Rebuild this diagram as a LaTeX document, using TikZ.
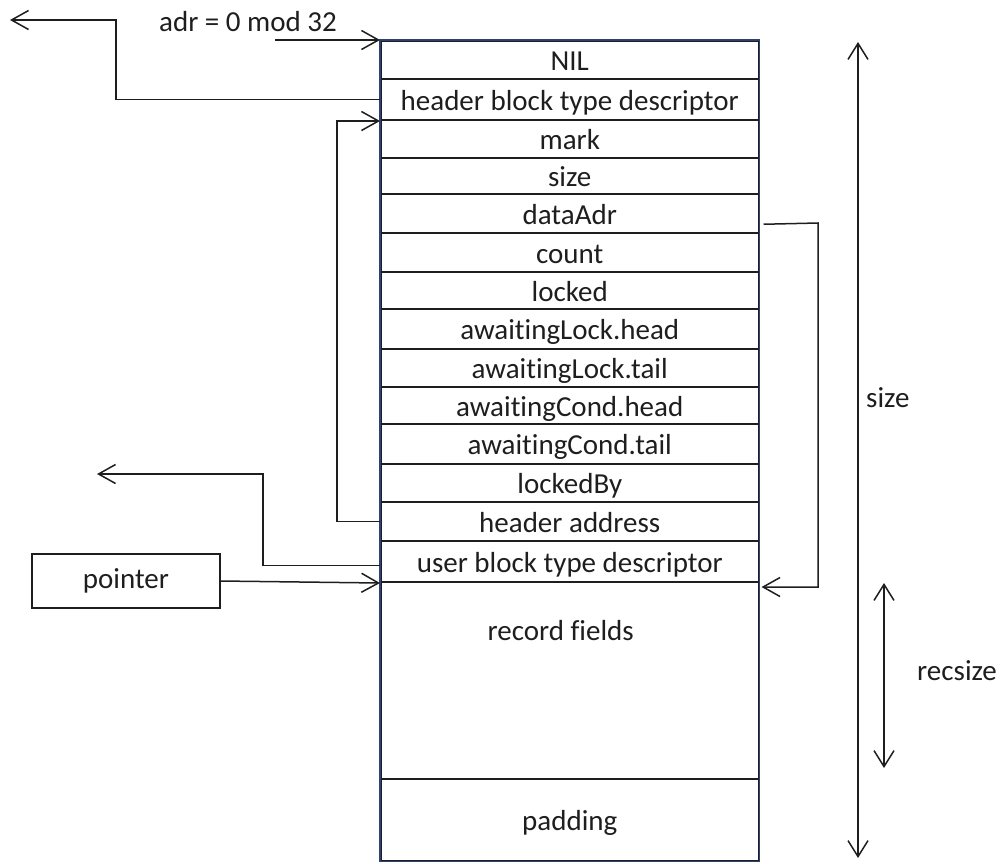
\documentclass[tikz,border=0pt]{standalone}
\usepackage{fontspec}
\setmainfont{Carlito}[Ligatures=NoCommon]
\usetikzlibrary{arrows.meta}
\definecolor{frameblue}{RGB}{44,66,118}
\definecolor{ink}{RGB}{30,30,30}
\tikzset{
  cell/.style={draw=ink, line width=1.5pt, minimum width=378pt, inner sep=0pt,
               anchor=north west, font=\fontsize{29}{33}\selectfont, text=ink,
               text height=22pt, text depth=0pt},
  lbl/.style={font=\fontsize{29}{33}\selectfont, text=ink, inner sep=0pt},
  link/.style={draw=ink, line width=1.5pt},
  arr/.style={link, -{Straight Barb[length=17pt,width=19pt,line width=1.5pt]}},
  dbl/.style={link, {Straight Barb[length=16pt,width=20pt,line width=1.5pt]}-{Straight Barb[length=16pt,width=20pt,line width=1.5pt]}}
}
\begin{document}
\begin{tikzpicture}[x=1pt,y=-1pt]
\useasboundingbox (0,0) rectangle (1001,863);

% memory block rows
\node[cell, minimum height=38pt] (nil)   at (380,40)  {NIL};
\node[cell, minimum height=41pt] (hbtd)  at (380,78)  {header block type descriptor};
\node[cell, minimum height=38pt] (mark)  at (380,119) {mark};
\node[cell, minimum height=36pt] (sz)    at (380,157) {size};
\node[cell, minimum height=39pt] (data)  at (380,193) {dataAdr};
\node[cell, minimum height=39pt] (count) at (380,232) {count};
\node[cell, minimum height=37pt] (lck)   at (380,271) {locked};
\node[cell, minimum height=40pt] (alh)   at (380,308) {awaitingLock.head};
\node[cell, minimum height=38pt] (alt)   at (380,348) {awaitingLock.tail};
\node[cell, minimum height=37pt] (ach)   at (380,386) {awaitingCond.head};
\node[cell, minimum height=40pt] (act)   at (380,423) {awaitingCond.tail};
\node[cell, minimum height=38pt] (lby)   at (380,463) {lockedBy};
\node[cell, minimum height=39pt] (haddr) at (380,501) {header address};
\node[cell, minimum height=41pt] (ubtd)  at (380,540) {user block type descriptor};
\node[cell, minimum height=197pt, text depth=101pt] (rec) at (380,581) {\hspace*{-18pt}record fields};
\node[cell, minimum height=82pt] (pad)   at (380,778) {padding};

% outer frame
\draw[frameblue, line width=1.6pt] (nil.north west) rectangle (pad.south east);

% left side annotations
\node[lbl] (adr) at (248,22) {adr = 0 mod 32};
\coordinate (adrstart) at (275,40);
\draw[arr] (adrstart) -- (nil.north west);

\coordinate (hbtdend) at (10,20);
\draw[arr] (hbtd.west) -- ++(-264,0) |- (hbtdend);

\draw[arr] (haddr.west) -- ++(-43,0) |- ([yshift=-2pt]mark.north west);

\coordinate (ubtdend) at (97,474);
\draw[arr] ([yshift=-4pt]ubtd.west) -- ++(-117,0) |- (ubtdend);

\node[draw=ink, line width=1.5pt, minimum width=188pt, minimum height=54pt,
      font=\fontsize{29}{33}\selectfont, text=ink, inner sep=0pt] (ptr) at (126,581) {pointer};
\draw[arr] (ptr.east) -- ([yshift=-2pt]rec.north west);

% right side annotations
\draw[arr] ([xshift=4pt,yshift=-11pt]data.east) -- (818,223) |- ([xshift=2pt,yshift=-6pt]rec.north east);

\coordinate (sizetop) at (858,42);
\coordinate (sizebot) at (858,858);
\draw[dbl] (sizetop) -- (sizebot);
\node[lbl, anchor=west] (sizelbl) at (866,398) {size};

\coordinate (rectop) at (884,583);
\coordinate (recbot) at (884,768);
\draw[dbl] (rectop) -- (recbot);
\node[lbl, anchor=west] (reclbl) at (917,671) {recsize};
\end{tikzpicture}
\end{document}
